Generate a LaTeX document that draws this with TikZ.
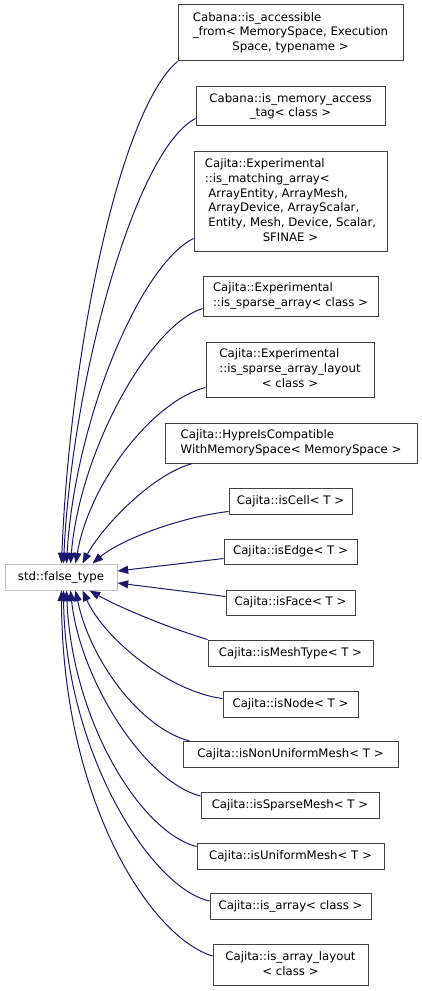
\documentclass[tikz,border=0pt]{standalone}
\usepackage{fontspec}
\setmainfont{DejaVu Sans}
\usetikzlibrary{arrows.meta,calc}
\definecolor{edgecol}{HTML}{191970}
\definecolor{boxcol}{HTML}{404040}
\definecolor{rootcol}{HTML}{BFBFBF}
\newcommand\lbl[2]{\begin{tabular}{@{}l@{}}#1\\\multicolumn{1}{@{}c@{}}{#2}\end{tabular}}
\begin{document}
\begin{tikzpicture}[x=0.75pt,y=-0.75pt,
  cls/.style 2 args={draw=boxcol, line width=0.75pt, fill=white, inner sep=0pt,
     minimum width={#1*0.75pt}, minimum height={#2*0.75pt},
     font=\fontsize{8.8pt}{11pt}\selectfont},
  rootbox/.style 2 args={cls={#1}{#2}, draw=rootcol},
  inh/.style={draw=edgecol, line width=0.75pt, -{Triangle[length=8pt,width=6pt]}}]
\useasboundingbox (0,0) rectangle (421,991);
% nodes
\node[rootbox={112}{26}] (ft) at (61,577) {std::false\_type};
\node[cls={225}{56}] (acc) at (290.5,33) {\lbl{Cabana::is\_accessible\\\_from< MemorySpace, Execution}{Space, typename >}};
\node[cls={189}{39}] (mem) at (290.5,106.5) {\lbl{Cabana::is\_memory\_access}{\_tag< class >}};
\node[cls={193}{99}] (mat) at (290.5,201.5) {\lbl{Cajita::Experimental\\::is\_matching\_array<\\\hspace*{0.3em}ArrayEntity, ArrayMesh,\\\hspace*{0.3em}ArrayDevice, ArrayScalar,\\\hspace*{0.3em}Entity, Mesh, Device, Scalar,}{SFINAE >}};
\node[cls={175}{40}] (spa) at (290.5,296) {\lbl{Cajita::Experimental}{::is\_sparse\_array< class >}};
\node[cls={168}{55}] (spl) at (290,369.5) {\lbl{Cajita::Experimental\\::is\_sparse\_array\_layout}{< class >}};
\node[cls={252}{40}] (hyp) at (291,443) {\lbl{Cajita::HypreIsCompatible}{WithMemorySpace< MemorySpace >}};
\node[cls={123}{26}] (cell) at (290.5,501) {Cajita::isCell< T >};
\node[cls={133}{25}] (edge) at (290.5,551.5) {Cajita::isEdge< T >};
\node[cls={129}{25}] (face) at (290.5,602.5) {Cajita::isFace< T >};
\node[cls={165}{26}] (mt) at (290.5,653) {Cajita::isMeshType< T >};
\node[cls={135}{26}] (nd) at (290.5,704) {Cajita::isNode< T >};
\node[cls={215}{26}] (nu) at (290.5,754.5) {Cajita::isNonUniformMesh< T >};
\node[cls={178}{26}] (sm) at (290,805.5) {Cajita::isSparseMesh< T >};
\node[cls={187}{26}] (um) at (290.5,856) {Cajita::isUniformMesh< T >};
\node[cls={161}{26}] (arr) at (290.5,906.5) {Cajita::is\_array< class >};
\node[cls={155}{41}] (arl) at (290.5,965) {\lbl{Cajita::is\_array\_layout}{< class >}};
% edges (child -> std::false_type)
\draw[inh] (acc.south west) .. controls (120,110) and (70,350) .. ($(ft.north west)+(57,0)$);
\draw[inh] ($(mem.south west)+(0,-8)$) .. controls (135,150) and (72,380) .. ($(ft.north west)+(59,0)$);
\draw[inh] ($(mat.south west)+(0,-13)$) .. controls (140,265) and (75,420) .. ($(ft.north west)+(62,0)$);
\draw[inh] ($(spa.south west)+(0,-8)$) .. controls (150,325) and (80,450) .. ($(ft.north west)+(66,0)$);
\draw[inh] ($(spl.south west)+(0,-10)$) .. controls (155,400) and (90,480) .. ($(ft.north west)+(71,0)$);
\draw[inh] ($(hyp.south west)+(28,0)$) .. controls (150,475) and (100,530) .. ($(ft.north west)+(78,0)$);
\draw[inh] ($(cell.south west)+(0,-3)$) .. controls (180,517) and (120,540) .. ($(ft.north west)+(88,0)$);
\draw[inh] ($(edge.west)+(0,7)$) -- ($(ft.east)+(0,-6)$);
\draw[inh] ($(face.west)+(0,-6)$) -- ($(ft.east)+(0,6)$);
\draw[inh] (mt.north west) .. controls (160,625) and (115,605) .. ($(ft.south west)+(85,0)$);
\draw[inh] ($(nd.north west)+(0,8)$) .. controls (170,692) and (105,640) .. ($(ft.south west)+(78,0)$);
\draw[inh] ($(nu.north west)+(7,0)$) .. controls (140,728) and (90,660) .. ($(ft.south west)+(71,0)$);
\draw[inh] ($(sm.north west)+(0,4)$) .. controls (145,782) and (80,680) .. ($(ft.south west)+(66,0)$);
\draw[inh] ($(um.north west)+(0,4)$) .. controls (140,832) and (72,720) .. ($(ft.south west)+(62,0)$);
\draw[inh] ($(arr.north west)+(0,8)$) .. controls (150,888) and (65,750) .. ($(ft.south west)+(59,0)$);
\draw[inh] ($(arl.north west)+(0,12)$) .. controls (150,937) and (62,800) .. ($(ft.south west)+(57,0)$);
\end{tikzpicture}
\end{document}
